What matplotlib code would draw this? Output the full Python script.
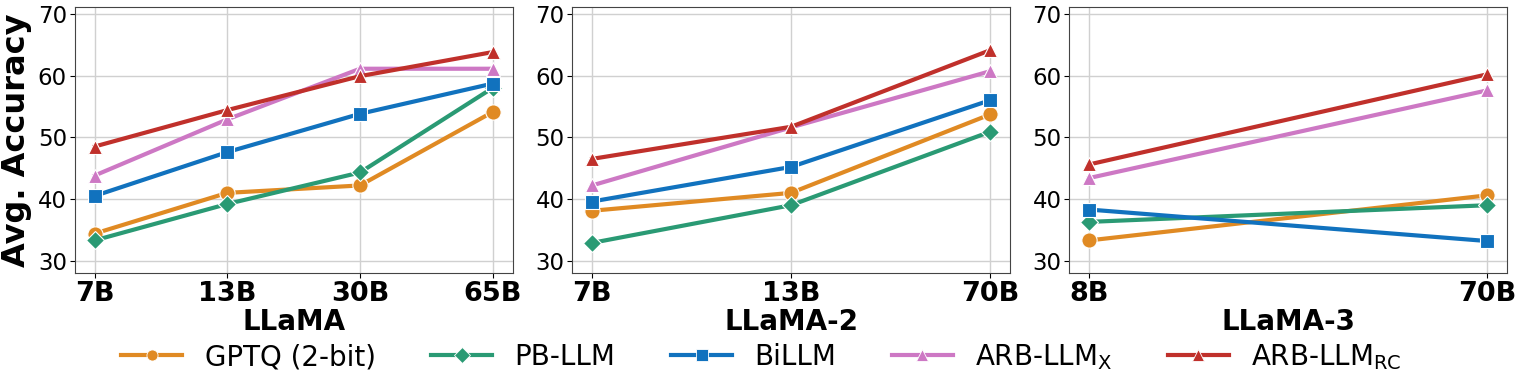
import matplotlib
matplotlib.use('Agg')
import matplotlib.pyplot as plt
from matplotlib.lines import Line2D

# data
llama_sizes = ['7B', '13B', '30B', '65B']
llama2_sizes = ['7B', '13B', '70B']
llama3_sizes = ['8B', '70B']

gptq_1 = [34.4, 41.0, 42.2, 54.1]
pbllm_1 = [33.3, 39.2, 44.3, 58.0]
billm_1 = [40.5, 47.6, 53.8, 58.7]
arbx_1 = [43.8, 52.9, 61.1, 61.1]
arbrc_1 = [48.5, 54.4, 59.9, 63.8]

gptq_2 = [38.1, 41.0, 53.7]
pbllm_2 = [32.9, 39.0, 50.9]
billm_2 = [39.6, 45.2, 56.0]
arbx_2 = [42.2, 51.6, 60.7]
arbrc_2 = [46.5, 51.7, 64.1]

gptq_3 = [33.3, 40.6]
pbllm_3 = [36.3, 39.0]
billm_3 = [38.3, 33.2]
arbx_3 = [43.4, 57.6]
arbrc_3 = [45.6, 60.2]

methods = ['GPTQ (2-bit)', 'PB-LLM', 'BiLLM', r'ARB-LLM$_\mathrm{X}$', r'ARB-LLM$_\mathrm{RC}$']
colors = ['#e08a23', '#2a9a74', '#1172be', '#cd78c4', '#c0302b']
markers = ['o', 'D', 's', '^', '^']
msizes = [11, 9, 10, 10, 10]

panels = [
    ('LLaMA', llama_sizes, [gptq_1, pbllm_1, billm_1, arbx_1, arbrc_1]),
    ('LLaMA-2', llama2_sizes, [gptq_2, pbllm_2, billm_2, arbx_2, arbrc_2]),
    ('LLaMA-3', llama3_sizes, [gptq_3, pbllm_3, billm_3, arbx_3, arbrc_3]),
]

fig = plt.figure(figsize=(15.23, 3.88), dpi=100)
lefts = [0.049, 0.3756, 0.702]
for i, (name, sizes, series) in enumerate(panels):
    ax = fig.add_axes([lefts[i], 0.296, 0.2876, 0.686])
    x = list(range(len(sizes)))
    for vals, c, m, ms in zip(series, colors, markers, msizes):
        ax.plot(x, vals, color=c, marker=m, markersize=ms, linewidth=3,
                markeredgecolor='white', markeredgewidth=0.8, zorder=3)
    ax.set_xticks(x)
    ax.set_xticklabels(sizes, fontsize=19.5, fontweight='bold')
    ax.set_ylim(28, 71.1)
    ax.set_yticks([30, 40, 50, 60, 70])
    ax.tick_params(axis='y', labelsize=16.5, pad=2)
    ax.tick_params(axis='x', pad=2)
    ax.grid(True, color='#d0d0d0', linewidth=1)
    ax.set_axisbelow(True)
    for s in ax.spines.values():
        s.set_color('#444444')
    ax.set_xlabel(name, fontsize=20, fontweight='bold', labelpad=1)
    if i == 0:
        ax.set_ylabel('Avg. Accuracy', fontsize=23, fontweight='bold', labelpad=4)

handles = [Line2D([0], [0], color=c, marker=m, markersize=8, linewidth=3,
                  markeredgecolor='white', markeredgewidth=0.6)
           for c, m in zip(colors, markers)]
fig.legend(handles, methods, loc='center', bbox_to_anchor=(0.5, 0.08), ncol=5,
           frameon=False, fontsize=20, columnspacing=2.0, handlelength=2.2)

fig.savefig('out.png', dpi=100)
